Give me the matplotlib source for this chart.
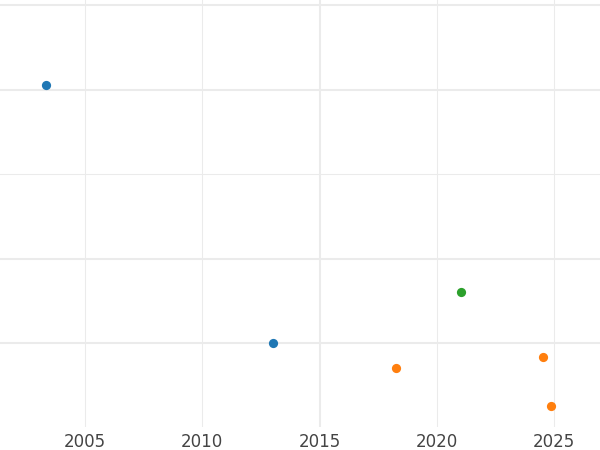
import matplotlib
matplotlib.use("Agg")
import matplotlib.pyplot as plt

# points
years = [2003.34, 2013.02, 2018.27, 2021.04, 2024.53, 2024.87]
values = [40.5, 10.0, 7.0, 16.0, 8.3, 2.5]
groups = ["a", "a", "b", "c", "b", "b"]
group_colors = {"a": "#1f77b4", "b": "#ff7f0e", "c": "#2ca02c"}

x_ticks = [2005, 2010, 2015, 2020, 2025]
y_ticks = [10, 20, 30, 40, 50]

fig = plt.figure(figsize=(6, 4.5), dpi=100)
ax = fig.add_axes([0, 0.051, 1, 0.949])

for g, col in group_colors.items():
    xs = [x for x, k in zip(years, groups) if k == g]
    ys = [y for y, k in zip(values, groups) if k == g]
    ax.scatter(xs, ys, s=44, color=col, zorder=3, linewidths=0)

ax.set_xlim(2001.37, 2026.96)
ax.set_ylim(0.06, 50.59)
ax.set_xticks(x_ticks)
ax.set_yticks(y_ticks)
ax.set_yticklabels([])
ax.tick_params(axis="both", length=0, labelsize=12, labelcolor="#444444", pad=4)
ax.tick_params(axis="y", labelleft=False)

ax.grid(True, color="#ebebeb", zorder=0)
xw = [1, 1, 2, 1, 1]
yw = [2, 2, 1, 2, 2]
for line, w in zip(ax.get_xgridlines(), xw):
    line.set_linewidth(w * 0.75)
for line, w in zip(ax.get_ygridlines(), yw):
    line.set_linewidth(w * 0.75)
ax.set_axisbelow(True)

for s in ax.spines.values():
    s.set_visible(False)

fig.savefig("out.png", dpi=100)
